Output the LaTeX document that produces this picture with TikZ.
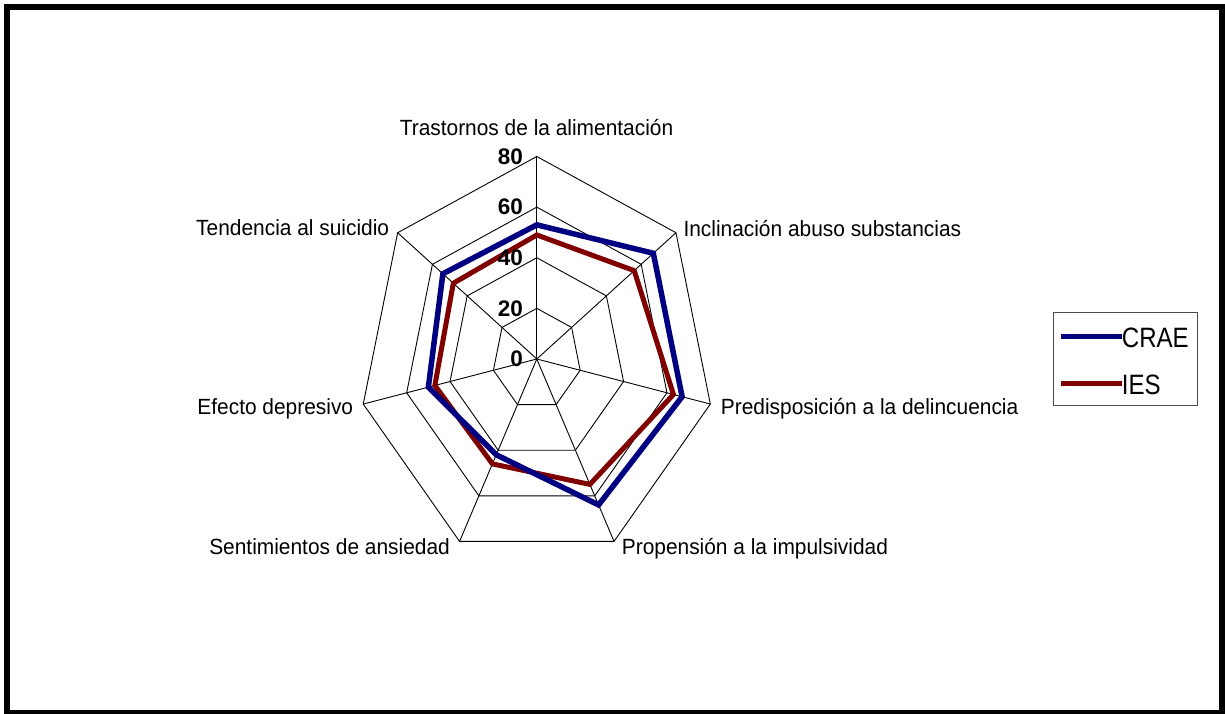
\documentclass[tikz,border=0pt]{standalone}
\usepackage{fontspec}
\setmainfont{Liberation Sans}
\usetikzlibrary{positioning}

\begin{document}
\begin{tikzpicture}[x=1pt, y=1pt,
  axislabel/.style={font=\fontsize{22}{26}\selectfont, inner sep=0pt, xscale=0.95},
  ringlabel/.style={font=\fontsize{22.5}{26}\selectfont\bfseries, inner sep=0pt, anchor=east},
  legendtext/.style={font=\fontsize{28}{32}\selectfont, inner sep=0pt, xscale=0.86, anchor=base west},
  grid/.style={draw=black, line width=0.9pt},
  crae/.style={draw=blue!50!black, line width=5.5pt},
  ies/.style={draw=red!50!black, line width=5pt}]

\useasboundingbox (0,0) rectangle (1225,714);
\draw[line width=6pt] (7,1) rectangle (1222,707);

% Radar grid and series
\begin{scope}[shift={(536.8,355)}, xscale=0.879]
\foreach \r in {1,...,4}
  \draw[grid] (90:\r*50.625) \foreach \k in {1,...,6} { -- (90-\k*360/7:\r*50.625) } -- cycle;
\foreach \k in {0,...,6}
  \draw[grid] (0,0) -- (90-\k*360/7:202.5);
\draw[ies] (90:49*2.531) \foreach \v [count=\k] in {56,63,55,46,47,48} { -- (90-\k*360/7:\v*2.531) } -- cycle;
\draw[crae] (90:53*2.531) \foreach \v [count=\k] in {67,67,64,42,50,54} { -- (90-\k*360/7:\v*2.531) } -- cycle;
\end{scope}

% Ring values
\node[ringlabel] (r80) at (523,557.5) {80};
\node[ringlabel] (r60) at (523,506.9) {60};
\node[ringlabel] (r40) at (523,456.3) {40};
\node[ringlabel] (r20) at (523,405.6) {20};
\node[ringlabel] (r0) at (523,355) {0};

% Axis labels
\node[axislabel, anchor=base] (trastornos) at (536.5,578) {Trastornos de la alimentación};
\node[axislabel, anchor=base west] (inclinacion) at (683.3,477.3) {Inclinación abuso substancias};
\node[axislabel, anchor=base west] (predisposicion) at (720.7,299.7) {Predisposición a la delincuencia};
\node[axislabel, anchor=base west] (propension) at (621.7,159) {Propensión a la impulsividad};
\node[axislabel, anchor=base east] (sentimientos) at (450,159) {Sentimientos de ansiedad};
\node[axislabel, anchor=base east] (efecto) at (353.3,299.7) {Efecto depresivo};
\node[axislabel, anchor=base east] (tendencia) at (389.3,478) {Tendencia al suicidio};

% Legend
\draw[draw=black!70, line width=1pt] (1053.3,308) rectangle (1197.7,401.3);
\node[legendtext] (craetext) at (1121.7,366.3) {CRAE};
\node[legendtext] (iestext) at (1121.7,319.7) {IES};
\coordinate (craeline) at (1060.7,377.3);
\coordinate (iesline) at (1060.7,330.7);
\draw[crae, line width=4.5pt] (craeline) -- (craeline -| craetext.west);
\draw[ies, line width=4.5pt] (iesline) -- (iesline -| iestext.west);

\end{tikzpicture}
\end{document}
